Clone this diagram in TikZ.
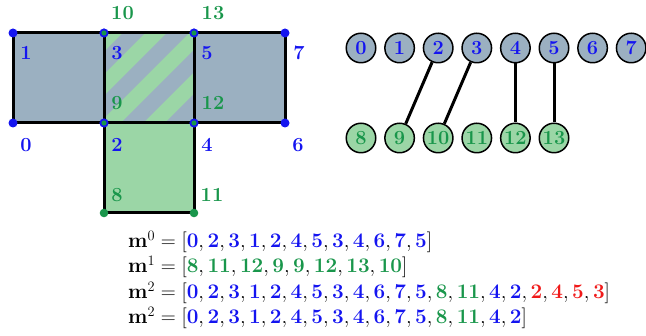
\documentclass[tikz,border=0pt]{standalone}
\usepackage{amsmath}
\definecolor{bluegray}{RGB}{155,176,193}
\definecolor{lgreen}{RGB}{155,214,166}
\definecolor{dgreen}{RGB}{25,150,75}
\definecolor{vblue}{RGB}{20,20,240}
\definecolor{vred}{RGB}{240,25,25}
\newcommand{\bd}[1]{\textcolor{vblue}{\mathbf{#1}}}
\newcommand{\gd}[1]{\textcolor{dgreen}{\mathbf{#1}}}
\newcommand{\rd}[1]{\textcolor{vred}{\mathbf{#1}}}
\tikzset{
  big/.style={font=\fontsize{20}{24}\selectfont\bfseries},
  blab/.style={big, text=vblue, inner sep=0pt},
  glab/.style={big, text=dgreen, inner sep=0pt},
  vnode/.style={circle, draw=black, line width=1.5pt, minimum size=29.5pt, inner sep=0pt, fill=bluegray, text=vblue, big},
  unode/.style={circle, draw=black, line width=1.5pt, minimum size=29.5pt, inner sep=0pt, fill=lgreen, text=dgreen, big},
  edge/.style={line width=3pt, black},
  frame/.style={line width=3pt, black},
  mline/.style={anchor=base west, inner sep=0pt, font=\fontsize{20.3}{25}\selectfont}
}
\begin{document}
\begin{tikzpicture}[x=1pt,y=-1pt]
\useasboundingbox (0,0) rectangle (646,336);
% corner coordinates
\coordinate (p0) at (13,123);
\coordinate (p1) at (13,33);
\coordinate (p2) at (104,123);
\coordinate (p3) at (104,33);
\coordinate (p4) at (194,123);
\coordinate (p5) at (194,33);
\coordinate (p6) at (285,123);
\coordinate (p7) at (285,33);
\coordinate (p8) at (104,213);
\coordinate (p11) at (194,213);
% fills
\fill[bluegray] (p0) rectangle (p3);
\fill[bluegray] (p4) rectangle (p7);
\fill[lgreen] (p8) rectangle (p4);
\fill[lgreen] (p2) rectangle (p5);
\begin{scope}
  \clip (p2) rectangle (p5);
  \foreach \c in {123,167,211,255,299,343}
    \draw[bluegray, line width=15.6pt] (\c,0) -- (\c-250,250);
\end{scope}
% outlines
\draw[frame] (p0) rectangle (p3);
\draw[frame] (p2) rectangle (p5);
\draw[frame] (p4) rectangle (p7);
\draw[frame] (p8) rectangle (p4);
% dots
\foreach \p in {p0,p1,p6,p7} \fill[vblue] (\p) circle (4.5pt);
\foreach \p in {p2,p3,p4,p5} {\fill[vblue] (\p) circle (4.6pt); \fill[dgreen] (\p) circle (2.6pt);}
\foreach \p in {p8,p11} \fill[dgreen] (\p) circle (4.3pt);
% labels
\node[blab] (l1) at (26,53) {1};
\node[blab] (l3) at (117,53) {3};
\node[blab] (l5) at (207,53) {5};
\node[blab] (l7) at (299,53) {7};
\node[blab] (l0) at (26,145) {0};
\node[blab] (l2) at (117,145) {2};
\node[blab] (l4) at (207,145) {4};
\node[blab] (l6) at (298,145) {6};
\node[glab] (l10) at (122.5,13) {10};
\node[glab] (l13) at (213,13) {13};
\node[glab] (l9) at (117,103) {9};
\node[glab] (l12) at (213,103) {12};
\node[glab] (l8) at (117,195) {8};
\node[glab] (l11) at (212,195) {11};
% graph
\foreach \i in {0,...,7}
  \node[vnode] (v\i) at (361+38.6*\i,48) {\i};
\foreach \i [count=\k from 0] in {8,...,13}
  \node[unode] (u\i) at (361+38.6*\k,138) {\i};
\draw[edge] (v2) -- (u9);
\draw[edge] (v3) -- (u10);
\draw[edge] (v4) -- (u12);
\draw[edge] (v5) -- (u13);
% formulas
\node[mline] (m0) at (128,248) {$\mathbf{m}^0 = [\bd{0},\bd{2},\bd{3},\bd{1},\bd{2},\bd{4},\bd{5},\bd{3},\bd{4},\bd{6},\bd{7},\bd{5}]$};
\node[mline] (m1) at (128,273) {$\mathbf{m}^1 = [\gd{8},\gd{11},\gd{12},\gd{9},\gd{9},\gd{12},\gd{13},\gd{10}]$};
\node[mline] (m2) at (128,299) {$\mathbf{m}^2 = [\bd{0},\bd{2},\bd{3},\bd{1},\bd{2},\bd{4},\bd{5},\bd{3},\bd{4},\bd{6},\bd{7},\bd{5},\gd{8},\gd{11},\bd{4},\bd{2},\rd{2},\rd{4},\rd{5},\rd{3}]$};
\node[mline] (m3) at (128,324) {$\mathbf{m}^2 = [\bd{0},\bd{2},\bd{3},\bd{1},\bd{2},\bd{4},\bd{5},\bd{3},\bd{4},\bd{6},\bd{7},\bd{5},\gd{8},\gd{11},\bd{4},\bd{2}]$};
\end{tikzpicture}
\end{document}
